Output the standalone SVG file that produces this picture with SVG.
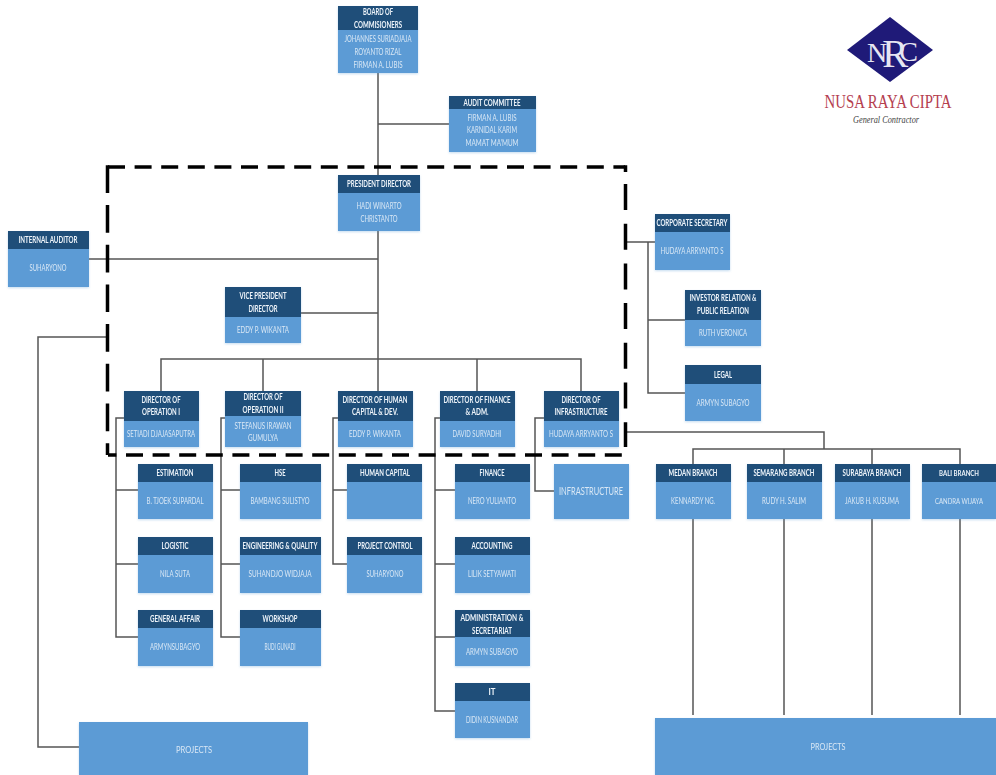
<svg xmlns="http://www.w3.org/2000/svg" width="996" height="775" viewBox="0 0 996 775">
<style>
.b{fill:#5b9bd5;filter:url(#sh)}
.h{fill:#1f4e79}
.t{font-family:"Lato","Open Sans","Liberation Sans",sans-serif;font-size:9px;text-anchor:middle;filter:url(#soft)}
.w{fill:#eef4fa;font-weight:700}
.l{fill:#d8e7f5}
.c{fill:none;stroke:#555;stroke-width:1.5}
.d{fill:none;stroke:#000;stroke-width:3.5}
</style>
<defs>
<filter id="sh" x="-10%" y="-10%" width="120%" height="125%"><feDropShadow dx="0" dy="1" stdDeviation="1" flood-color="#5b9bd5" flood-opacity="0.35"/></filter>
<filter id="soft" x="-5%" y="-20%" width="110%" height="140%"><feGaussianBlur stdDeviation="0.3"/></filter>
</defs>
<rect width="996" height="775" fill="#fff"/>
<g id="connectors">
<path class="c" d="M378 73V391M378 124H449M89 259H378M301 313H378M161 391V359H581V391M263 359V391M477 359V391"/>
<path class="c" d="M124 418H116V637H138M116 490H138M116 564H138"/>
<path class="c" d="M225 418H221V637H240M221 490H240M221 564H240"/>
<path class="c" d="M338 418H333V564H347M333 490H347"/>
<path class="c" d="M440 418H435V711H455M435 490H455M435 564H455M435 637H455"/>
<path class="c" d="M544 418H535V491H554"/>
<path class="c" d="M625 242H655M648 242V393H685M648 320H685"/>
<path class="c" d="M625 432H824V449M693 464V449H960V464M784 449V464M872 449V464"/>
<path class="c" d="M693 519V715M784 519V715M872 519V715M960 519V715"/>
<path class="c" d="M108 337H38V747H79"/>
</g>
<g id="board"><rect class="b" x="338" y="6" width="80" height="67"/><rect class="h" x="338" y="6" width="80" height="24"/>
<text class="t w" x="378" y="15" textLength="30" lengthAdjust="spacingAndGlyphs">BOARD OF</text><text class="t w" x="378" y="28" textLength="48" lengthAdjust="spacingAndGlyphs">COMMISIONERS</text>
<text class="t l" x="378" y="42" textLength="67" lengthAdjust="spacingAndGlyphs">JOHANNES SURIADJAJA</text><text class="t l" x="378" y="55" textLength="47" lengthAdjust="spacingAndGlyphs">ROYANTO RIZAL</text><text class="t l" x="378" y="68" textLength="49" lengthAdjust="spacingAndGlyphs">FIRMAN A. LUBIS</text></g>
<g id="audit"><rect class="b" x="449" y="96" width="87" height="56"/><rect class="h" x="449" y="96" width="87" height="13"/>
<text class="t w" x="492" y="106" textLength="57" lengthAdjust="spacingAndGlyphs">AUDIT COMMITTEE</text><text class="t l" x="492" y="121" textLength="49" lengthAdjust="spacingAndGlyphs">FIRMAN A. LUBIS</text><text class="t l" x="492" y="133" textLength="50" lengthAdjust="spacingAndGlyphs">KARNIDAL KARIM</text><text class="t l" x="492" y="146" textLength="53" lengthAdjust="spacingAndGlyphs">MAMAT MA'MUM</text></g>
<g id="president"><rect class="b" x="338" y="175" width="82" height="56"/><rect class="h" x="338" y="175" width="82" height="18"/>
<text class="t w" x="379" y="187" textLength="64" lengthAdjust="spacingAndGlyphs">PRESIDENT DIRECTOR</text><text class="t l" x="379" y="209" textLength="45" lengthAdjust="spacingAndGlyphs">HADI WINARTO</text><text class="t l" x="379" y="222" textLength="37" lengthAdjust="spacingAndGlyphs">CHRISTANTO</text></g>
<g id="internal-auditor"><rect class="b" x="8" y="231" width="81" height="56"/><rect class="h" x="8" y="231" width="81" height="18"/>
<text class="t w" x="48" y="243" textLength="59" lengthAdjust="spacingAndGlyphs">INTERNAL AUDITOR</text><text class="t l" x="48" y="271" textLength="37" lengthAdjust="spacingAndGlyphs">SUHARYONO</text></g>
<g id="vice-president"><rect class="b" x="225" y="287" width="76" height="56"/><rect class="h" x="225" y="287" width="76" height="30"/>
<text class="t w" x="263" y="299" textLength="47" lengthAdjust="spacingAndGlyphs">VICE PRESIDENT</text><text class="t w" x="263" y="312" textLength="29" lengthAdjust="spacingAndGlyphs">DIRECTOR</text><text class="t l" x="263" y="333" textLength="52" lengthAdjust="spacingAndGlyphs">EDDY P. WIKANTA</text></g>
<g id="corporate-secretary"><rect class="b" x="655" y="214" width="75" height="56"/><rect class="h" x="655" y="214" width="75" height="18"/>
<text class="t w" x="692" y="226" textLength="71" lengthAdjust="spacingAndGlyphs">CORPORATE SECRETARY</text><text class="t l" x="692" y="254" textLength="63" lengthAdjust="spacingAndGlyphs">HUDAYA ARRYANTO S</text></g>
<g id="investor"><rect class="b" x="685" y="290" width="76" height="56"/><rect class="h" x="685" y="290" width="76" height="30"/>
<text class="t w" x="723" y="301" textLength="67" lengthAdjust="spacingAndGlyphs">INVESTOR RELATION &amp;</text><text class="t w" x="723" y="314" textLength="52" lengthAdjust="spacingAndGlyphs">PUBLIC RELATION</text><text class="t l" x="723" y="336" textLength="48" lengthAdjust="spacingAndGlyphs">RUTH VERONICA</text></g>
<g id="legal"><rect class="b" x="685" y="365" width="76" height="56"/><rect class="h" x="685" y="365" width="76" height="19"/>
<text class="t w" x="723" y="378" textLength="18" lengthAdjust="spacingAndGlyphs">LEGAL</text><text class="t l" x="723" y="406" textLength="53" lengthAdjust="spacingAndGlyphs">ARMYN SUBAGYO</text></g>
<g id="dir-op1"><rect class="b" x="124" y="391" width="75" height="56"/><rect class="h" x="124" y="391" width="75" height="30"/>
<text class="t w" x="161" y="403" textLength="39" lengthAdjust="spacingAndGlyphs">DIRECTOR OF</text><text class="t w" x="161" y="415" textLength="38" lengthAdjust="spacingAndGlyphs">OPERATION I</text><text class="t l" x="161" y="437" textLength="68" lengthAdjust="spacingAndGlyphs">SETIADI DJAJASAPUTRA</text></g>
<g id="dir-op2"><rect class="b" x="225" y="391" width="76" height="56"/><rect class="h" x="225" y="391" width="76" height="25"/>
<text class="t w" x="263" y="400" textLength="39" lengthAdjust="spacingAndGlyphs">DIRECTOR OF</text><text class="t w" x="263" y="413" textLength="41" lengthAdjust="spacingAndGlyphs">OPERATION II</text><text class="t l" x="263" y="429" textLength="57" lengthAdjust="spacingAndGlyphs">STEFANUS IRAWAN</text><text class="t l" x="263" y="441" textLength="30" lengthAdjust="spacingAndGlyphs">GUMULYA</text></g>
<g id="dir-hc"><rect class="b" x="338" y="391" width="75" height="56"/><rect class="h" x="338" y="391" width="75" height="30"/>
<text class="t w" x="375" y="403" textLength="65" lengthAdjust="spacingAndGlyphs">DIRECTOR OF HUMAN</text><text class="t w" x="375" y="415" textLength="46" lengthAdjust="spacingAndGlyphs">CAPITAL &amp; DEV.</text><text class="t l" x="375" y="437" textLength="52" lengthAdjust="spacingAndGlyphs">EDDY P. WIKANTA</text></g>
<g id="dir-fin"><rect class="b" x="440" y="391" width="75" height="56"/><rect class="h" x="440" y="391" width="75" height="30"/>
<text class="t w" x="477" y="403" textLength="67" lengthAdjust="spacingAndGlyphs">DIRECTOR OF FINANCE</text><text class="t w" x="477" y="415" textLength="23" lengthAdjust="spacingAndGlyphs">&amp; ADM.</text><text class="t l" x="477" y="437" textLength="49" lengthAdjust="spacingAndGlyphs">DAVID SURYADHI</text></g>
<g id="dir-infra"><rect class="b" x="544" y="391" width="75" height="56"/><rect class="h" x="544" y="391" width="75" height="30"/>
<text class="t w" x="581" y="403" textLength="39" lengthAdjust="spacingAndGlyphs">DIRECTOR OF</text><text class="t w" x="581" y="415" textLength="53" lengthAdjust="spacingAndGlyphs">INFRASTRUCTURE</text><text class="t l" x="581" y="437" textLength="64" lengthAdjust="spacingAndGlyphs">HUDAYA ARRYANTO S</text></g>
<g id="estimation"><rect class="b" x="138" y="464" width="75" height="55"/><rect class="h" x="138" y="464" width="75" height="18"/>
<text class="t w" x="175" y="476" textLength="37" lengthAdjust="spacingAndGlyphs">ESTIMATION</text><text class="t l" x="175" y="504" textLength="57" lengthAdjust="spacingAndGlyphs">B. TJOEK SUPARDAL</text></g>
<g id="logistic"><rect class="b" x="138" y="537" width="75" height="56"/><rect class="h" x="138" y="537" width="75" height="18"/>
<text class="t w" x="175" y="549" textLength="27" lengthAdjust="spacingAndGlyphs">LOGISTIC</text><text class="t l" x="175" y="577" textLength="30" lengthAdjust="spacingAndGlyphs">NILA SUTA</text></g>
<g id="general-affair"><rect class="b" x="138" y="610" width="75" height="56"/><rect class="h" x="138" y="610" width="75" height="18"/>
<text class="t w" x="175" y="622" textLength="50" lengthAdjust="spacingAndGlyphs">GENERAL AFFAIR</text><text class="t l" x="175" y="650" textLength="50" lengthAdjust="spacingAndGlyphs">ARMYNSUBAGYO</text></g>
<g id="hse"><rect class="b" x="240" y="464" width="81" height="55"/><rect class="h" x="240" y="464" width="81" height="18"/>
<text class="t w" x="280" y="476" textLength="11" lengthAdjust="spacingAndGlyphs">HSE</text><text class="t l" x="280" y="504" textLength="59" lengthAdjust="spacingAndGlyphs">BAMBANG SULISTYO</text></g>
<g id="engineering"><rect class="b" x="240" y="537" width="81" height="56"/><rect class="h" x="240" y="537" width="81" height="18"/>
<text class="t w" x="280" y="549" textLength="75" lengthAdjust="spacingAndGlyphs">ENGINEERING &amp; QUALITY</text><text class="t l" x="280" y="577" textLength="63" lengthAdjust="spacingAndGlyphs">SUHANDJO WIDJAJA</text></g>
<g id="workshop"><rect class="b" x="240" y="610" width="81" height="56"/><rect class="h" x="240" y="610" width="81" height="18"/>
<text class="t w" x="280" y="622" textLength="35" lengthAdjust="spacingAndGlyphs">WORKSHOP</text><text class="t l" x="280" y="650" textLength="31" lengthAdjust="spacingAndGlyphs">BUDI GUNADI</text></g>
<g id="human-capital"><rect class="b" x="347" y="464" width="75" height="55"/><rect class="h" x="347" y="464" width="75" height="18"/>
<text class="t w" x="385" y="476" textLength="50" lengthAdjust="spacingAndGlyphs">HUMAN CAPITAL</text></g>
<g id="project-control"><rect class="b" x="347" y="537" width="75" height="56"/><rect class="h" x="347" y="537" width="75" height="18"/>
<text class="t w" x="385" y="549" textLength="55" lengthAdjust="spacingAndGlyphs">PROJECT CONTROL</text><text class="t l" x="385" y="577" textLength="37" lengthAdjust="spacingAndGlyphs">SUHARYONO</text></g>
<g id="finance"><rect class="b" x="455" y="464" width="75" height="55"/><rect class="h" x="455" y="464" width="75" height="18"/>
<text class="t w" x="492" y="476" textLength="25" lengthAdjust="spacingAndGlyphs">FINANCE</text><text class="t l" x="492" y="504" textLength="48" lengthAdjust="spacingAndGlyphs">NERO YULIANTO</text></g>
<g id="accounting"><rect class="b" x="455" y="537" width="75" height="56"/><rect class="h" x="455" y="537" width="75" height="18"/>
<text class="t w" x="492" y="549" textLength="41" lengthAdjust="spacingAndGlyphs">ACCOUNTING</text><text class="t l" x="492" y="577" textLength="48" lengthAdjust="spacingAndGlyphs">LILIK SETYAWATI</text></g>
<g id="administration"><rect class="b" x="455" y="610" width="75" height="56"/><rect class="h" x="455" y="610" width="75" height="27"/>
<text class="t w" x="492" y="621" textLength="63" lengthAdjust="spacingAndGlyphs">ADMINISTRATION &amp;</text><text class="t w" x="492" y="634" textLength="40" lengthAdjust="spacingAndGlyphs">SECRETARIAT</text><text class="t l" x="492" y="655" textLength="52" lengthAdjust="spacingAndGlyphs">ARMYN SUBAGYO</text></g>
<g id="it"><rect class="b" x="455" y="683" width="75" height="55"/><rect class="h" x="455" y="683" width="75" height="18"/>
<text class="t w" x="492" y="695" textLength="7" lengthAdjust="spacingAndGlyphs">IT</text><text class="t l" x="492" y="723" textLength="52" lengthAdjust="spacingAndGlyphs">DIDIN KUSNANDAR</text></g>
<g id="infrastructure"><rect class="b" x="554" y="464" width="75" height="55"/>
<text class="t l" x="591" y="495" style="font-size:11px" textLength="64" lengthAdjust="spacingAndGlyphs">INFRASTRUCTURE</text></g>
<g id="medan"><rect class="b" x="656" y="464" width="75" height="55"/><rect class="h" x="656" y="464" width="75" height="18"/>
<text class="t w" x="693" y="476" textLength="49" lengthAdjust="spacingAndGlyphs">MEDAN BRANCH</text><text class="t l" x="693" y="504" textLength="44" lengthAdjust="spacingAndGlyphs">KENNARDY NG.</text></g>
<g id="semarang"><rect class="b" x="747" y="464" width="75" height="55"/><rect class="h" x="747" y="464" width="75" height="18"/>
<text class="t w" x="784" y="476" textLength="61" lengthAdjust="spacingAndGlyphs">SEMARANG BRANCH</text><text class="t l" x="784" y="504" textLength="44" lengthAdjust="spacingAndGlyphs">RUDY H. SALIM</text></g>
<g id="surabaya"><rect class="b" x="835" y="464" width="75" height="55"/><rect class="h" x="835" y="464" width="75" height="18"/>
<text class="t w" x="872" y="476" textLength="59" lengthAdjust="spacingAndGlyphs">SURABAYA BRANCH</text><text class="t l" x="872" y="504" textLength="54" lengthAdjust="spacingAndGlyphs">JAKUB H. KUSUMA</text></g>
<g id="bali"><rect class="b" x="922" y="464" width="74" height="55"/><rect class="h" x="922" y="464" width="74" height="18"/>
<text class="t w" x="959" y="476" style="font-size:7.5px" textLength="40" lengthAdjust="spacingAndGlyphs">BALI BRANCH</text><text class="t l" x="959" y="504" style="font-size:7.5px" textLength="48" lengthAdjust="spacingAndGlyphs">CANDRA WIJAYA</text></g>
<g id="projects-left"><rect class="b" x="79" y="722" width="229" height="53"/><text class="t l" x="194" y="753" style="font-size:10px" textLength="36" lengthAdjust="spacingAndGlyphs">PROJECTS</text></g>
<g id="projects-right"><rect class="b" x="655" y="718" width="341" height="57"/><text class="t l" x="828" y="750" style="font-size:10px" textLength="35" lengthAdjust="spacingAndGlyphs">PROJECTS</text></g>
<g id="boundary">
<path class="d" d="M108 167H625" stroke-dasharray="17 9.6"/>
<path class="d" d="M625.5 165.300V172M625.500 184V447" stroke-dasharray="26 13.7"/>
<path class="d" d="M107.500 165.300V455" stroke-dasharray="27.700 12"/>
<path class="d" d="M108 455H622" stroke-dasharray="17 9.6" stroke-dashoffset="8.600"/>
</g>
<g id="logo">
<path d="M890 17L933 50L890 82L847 50Z" fill="#1f1a78"/>
<text x="867" y="62" style="font-family:'Liberation Serif',serif;font-size:28px" fill="#e6e6f2">N<tspan dx="-5" dy="5" style="font-size:39px">R</tspan><tspan dx="-9" dy="-6">C</tspan></text>
<text x="888" y="108" text-anchor="middle" style="font-family:'Liberation Serif',serif;font-size:19px" fill="#b5404f" textLength="127" lengthAdjust="spacingAndGlyphs">NUSA RAYA CIPTA</text>
<text x="886" y="123" text-anchor="middle" style="font-family:'Liberation Serif',serif;font-size:10px;font-style:italic" fill="#444" textLength="66" lengthAdjust="spacingAndGlyphs">General Contractor</text>
</g>
</svg>
